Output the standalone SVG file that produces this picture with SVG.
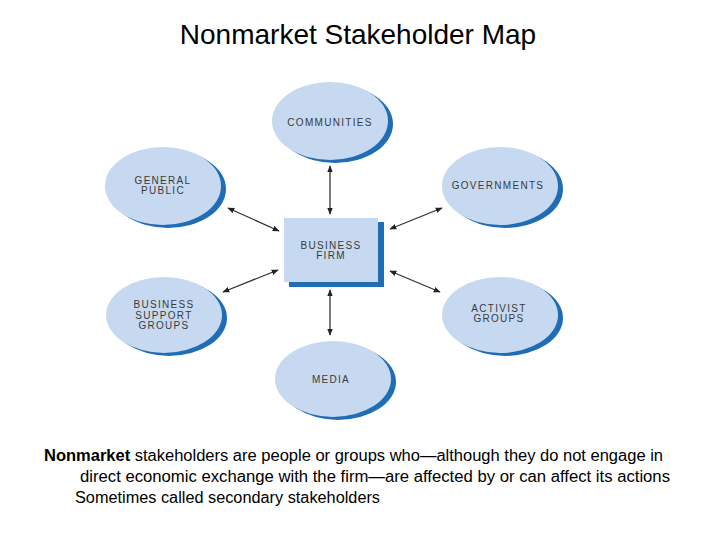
<svg xmlns="http://www.w3.org/2000/svg" width="720" height="540" viewBox="0 0 720 540">
<style>
.sh{fill:#1f6db5}
.bd{fill:#c6d9f0}
.lb{font-family:"Liberation Sans",Arial,sans-serif;font-size:10px;fill:#3a3a3a;text-anchor:middle;letter-spacing:1.3px}
.cn{stroke:#333;stroke-width:1.3;fill:none;marker-start:url(#ah);marker-end:url(#ah)}
.tt{font-family:"Liberation Sans",Arial,sans-serif;font-size:28px;fill:#000;text-anchor:middle}
.bt{font-family:"Liberation Sans",Arial,sans-serif;font-size:16px;fill:#000}
</style>
<defs>
<marker id="ah" viewBox="0 0 10 10" refX="9" refY="5" markerWidth="7" markerHeight="7" orient="auto-start-reverse" markerUnits="userSpaceOnUse">
<path d="M0,1 L10,5 L0,9 z" fill="#222"/>
</marker>
</defs>
<rect width="720" height="540" fill="#fff"/>
<text class="tt" x="358" y="44">Nonmarket Stakeholder Map</text>
<g id="connectors">
<line class="cn" x1="330" y1="166" x2="330" y2="214"/>
<line class="cn" x1="330" y1="290" x2="330" y2="335"/>
<line class="cn" x1="228" y1="208" x2="279" y2="231"/>
<line class="cn" x1="442" y1="208" x2="390" y2="229"/>
<line class="cn" x1="223" y1="292" x2="278" y2="270"/>
<line class="cn" x1="440" y1="292" x2="390" y2="271"/>
</g>
<g id="communities">
<ellipse class="sh" cx="335" cy="124" rx="58" ry="39"/>
<ellipse class="bd" cx="330" cy="121" rx="58" ry="39"/>
<text class="lb" x="330" y="126">COMMUNITIES</text>
</g>
<g id="general-public">
<ellipse class="sh" cx="168" cy="189" rx="58" ry="39"/>
<ellipse class="bd" cx="163" cy="186" rx="58" ry="39"/>
<text class="lb" x="163" y="184">GENERAL</text>
<text class="lb" x="163" y="194">PUBLIC</text>
</g>
<g id="governments">
<ellipse class="sh" cx="505" cy="189" rx="58" ry="39"/>
<ellipse class="bd" cx="500" cy="186" rx="58" ry="39"/>
<text class="lb" x="498" y="189">GOVERNMENTS</text>
</g>
<g id="business-firm">
<rect class="sh" x="289" y="222" width="95" height="65"/>
<rect class="bd" x="284" y="218" width="94" height="64"/>
<text class="lb" x="331" y="249">BUSINESS</text>
<text class="lb" x="331" y="259">FIRM</text>
</g>
<g id="business-support-groups">
<ellipse class="sh" cx="169" cy="318" rx="58" ry="38"/>
<ellipse class="bd" cx="164" cy="315" rx="58" ry="38"/>
<text class="lb" x="164" y="308">BUSINESS</text>
<text class="lb" x="164" y="319">SUPPORT</text>
<text class="lb" x="164" y="329">GROUPS</text>
</g>
<g id="activist-groups">
<ellipse class="sh" cx="505" cy="318" rx="58" ry="38"/>
<ellipse class="bd" cx="500" cy="315" rx="58" ry="38"/>
<text class="lb" x="499" y="312">ACTIVIST</text>
<text class="lb" x="499" y="322">GROUPS</text>
</g>
<g id="media">
<ellipse class="sh" cx="338" cy="382" rx="58" ry="38"/>
<ellipse class="bd" cx="333" cy="379" rx="58" ry="38"/>
<text class="lb" x="331" y="383">MEDIA</text>
</g>
<g id="caption">
<text class="bt" x="44" y="461" textLength="619" lengthAdjust="spacingAndGlyphs"><tspan font-weight="bold">Nonmarket</tspan> stakeholders are people or groups who—although they do not engage in</text>
<text class="bt" x="80" y="482" textLength="590" lengthAdjust="spacingAndGlyphs">direct economic exchange with the firm—are affected by or can affect its actions</text>
<text class="bt" x="75" y="503" textLength="305" lengthAdjust="spacingAndGlyphs">Sometimes called secondary stakeholders</text>
</g>
</svg>
